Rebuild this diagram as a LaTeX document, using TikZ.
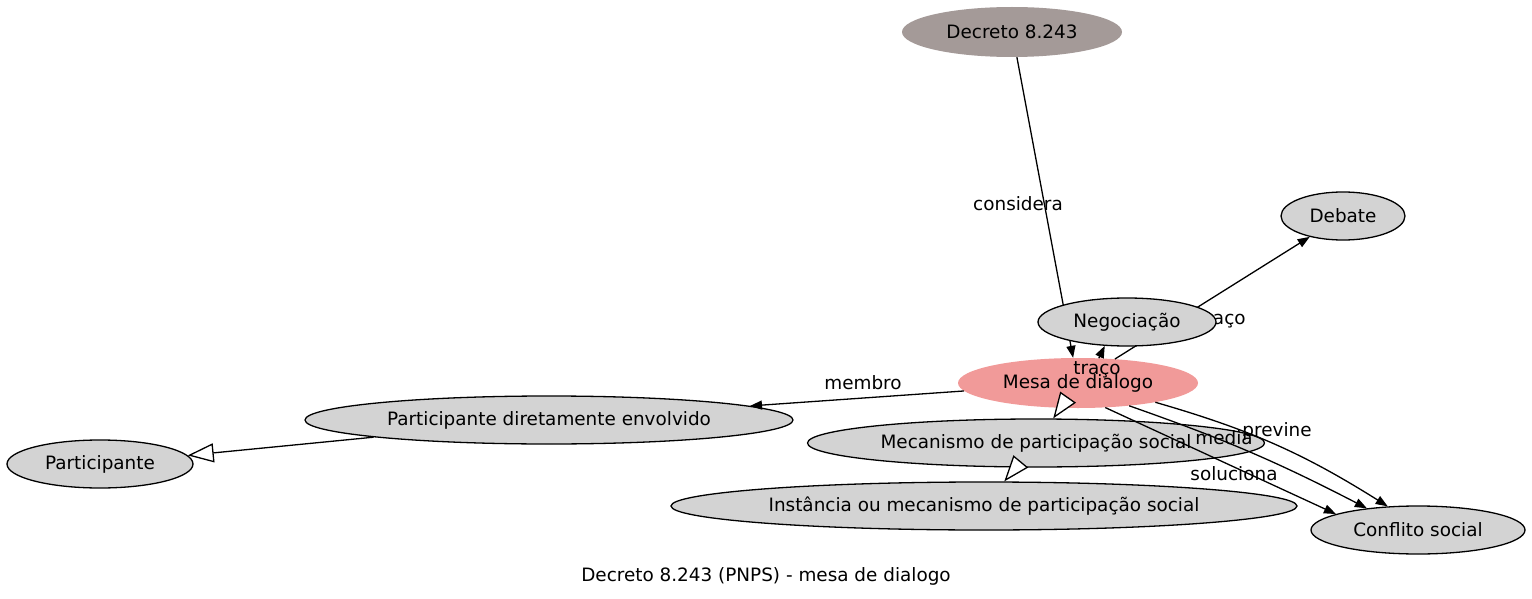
\documentclass[tikz,border=0pt]{standalone}
\usepackage{fontspec}
\setmainfont{DejaVu Sans}
\usetikzlibrary{arrows.meta,shapes.geometric}

\definecolor{cinza}{HTML}{D3D3D3}
\definecolor{decretocor}{HTML}{A49A98}
\definecolor{mesacor}{HTML}{F19A99}

\pgfdeclarelayer{frente}
\pgfsetlayers{main,frente}

\begin{document}
\begin{tikzpicture}[x=1pt, y=-1pt,
    font=\fontsize{18.4}{22}\selectfont,
    ent/.style={ellipse, draw=black, line width=1.3pt, fill=cinza, inner sep=0pt},
    rot/.style={inner sep=1pt},
    seta/.style={line width=1.3pt, -{Triangle[length=12pt, width=9pt]}},
    heranca/.style={line width=1.3pt, -{Triangle[length=26pt, width=19pt, fill=white]}}]
    \useasboundingbox (0,0) rectangle (1532,599);

    \node[ellipse, fill=mesacor, inner sep=0pt, minimum width=240, minimum height=50] (mesa) at (1078,383) {Mesa de dialogo};
    \node[ellipse, fill=decretocor, inner sep=0pt, minimum width=220, minimum height=50] (decreto) at (1012,32) {Decreto 8.243};
    \node[ent, minimum width=124, minimum height=48] (debate) at (1343,216) {Debate};
    \node[ent, minimum width=488, minimum height=48] (pde) at (549,420) {Participante diretamente envolvido};
    \node[ent, minimum width=186, minimum height=48] (part) at (100,464) {Participante};
    \node[ent, minimum width=457, minimum height=48] (mec) at (1036,443) {Mecanismo de participação social};
    \node[ent, minimum width=626, minimum height=48] (inst) at (984,506) {Instância ou mecanismo de participação social};
    \node[ent, minimum width=214, minimum height=48] (conf) at (1418,530) {Conflito social};
    % fica por cima das arestas
    \begin{pgfonlayer}{frente}
      \node[ent, minimum width=178, minimum height=48] (nego) at (1127,322) {Negociação};
    \end{pgfonlayer}

    \draw[seta] (decreto.-79) -- (mesa.101);
    \draw[seta] (mesa.50) -- (nego.-133);
    \draw[seta] (mesa.33) -- (debate);
    \draw[seta] (mesa) -- (pde);
    \draw[heranca] (pde) -- (part);
    \draw[heranca] (mesa) -- (mec);
    \draw[heranca] (mec) -- (inst);
    \draw[seta] (mesa.-14) to[bend left=8] (conf.142);
    \draw[seta] (mesa.-24) to[bend left=4] (conf.157);
    \draw[seta] (mesa.-42) -- (conf.169);

    \node[rot] (r1) at (1018,204) {considera};
    \node[rot] (r2) at (1097,370) {traço};
    \node[rot] (r3) at (1213,321) {espaço};
    \node[rot] (r4) at (863,383) {membro};
    \node[rot] (r5) at (1277,431) {previne};
    \node[rot] (r6) at (1224,438) {media};
    \node[rot] (r7) at (1234,474) {soluciona};

    \node (titulo) at (766,576) {Decreto 8.243 (PNPS) - mesa de dialogo};
\end{tikzpicture}
\end{document}
